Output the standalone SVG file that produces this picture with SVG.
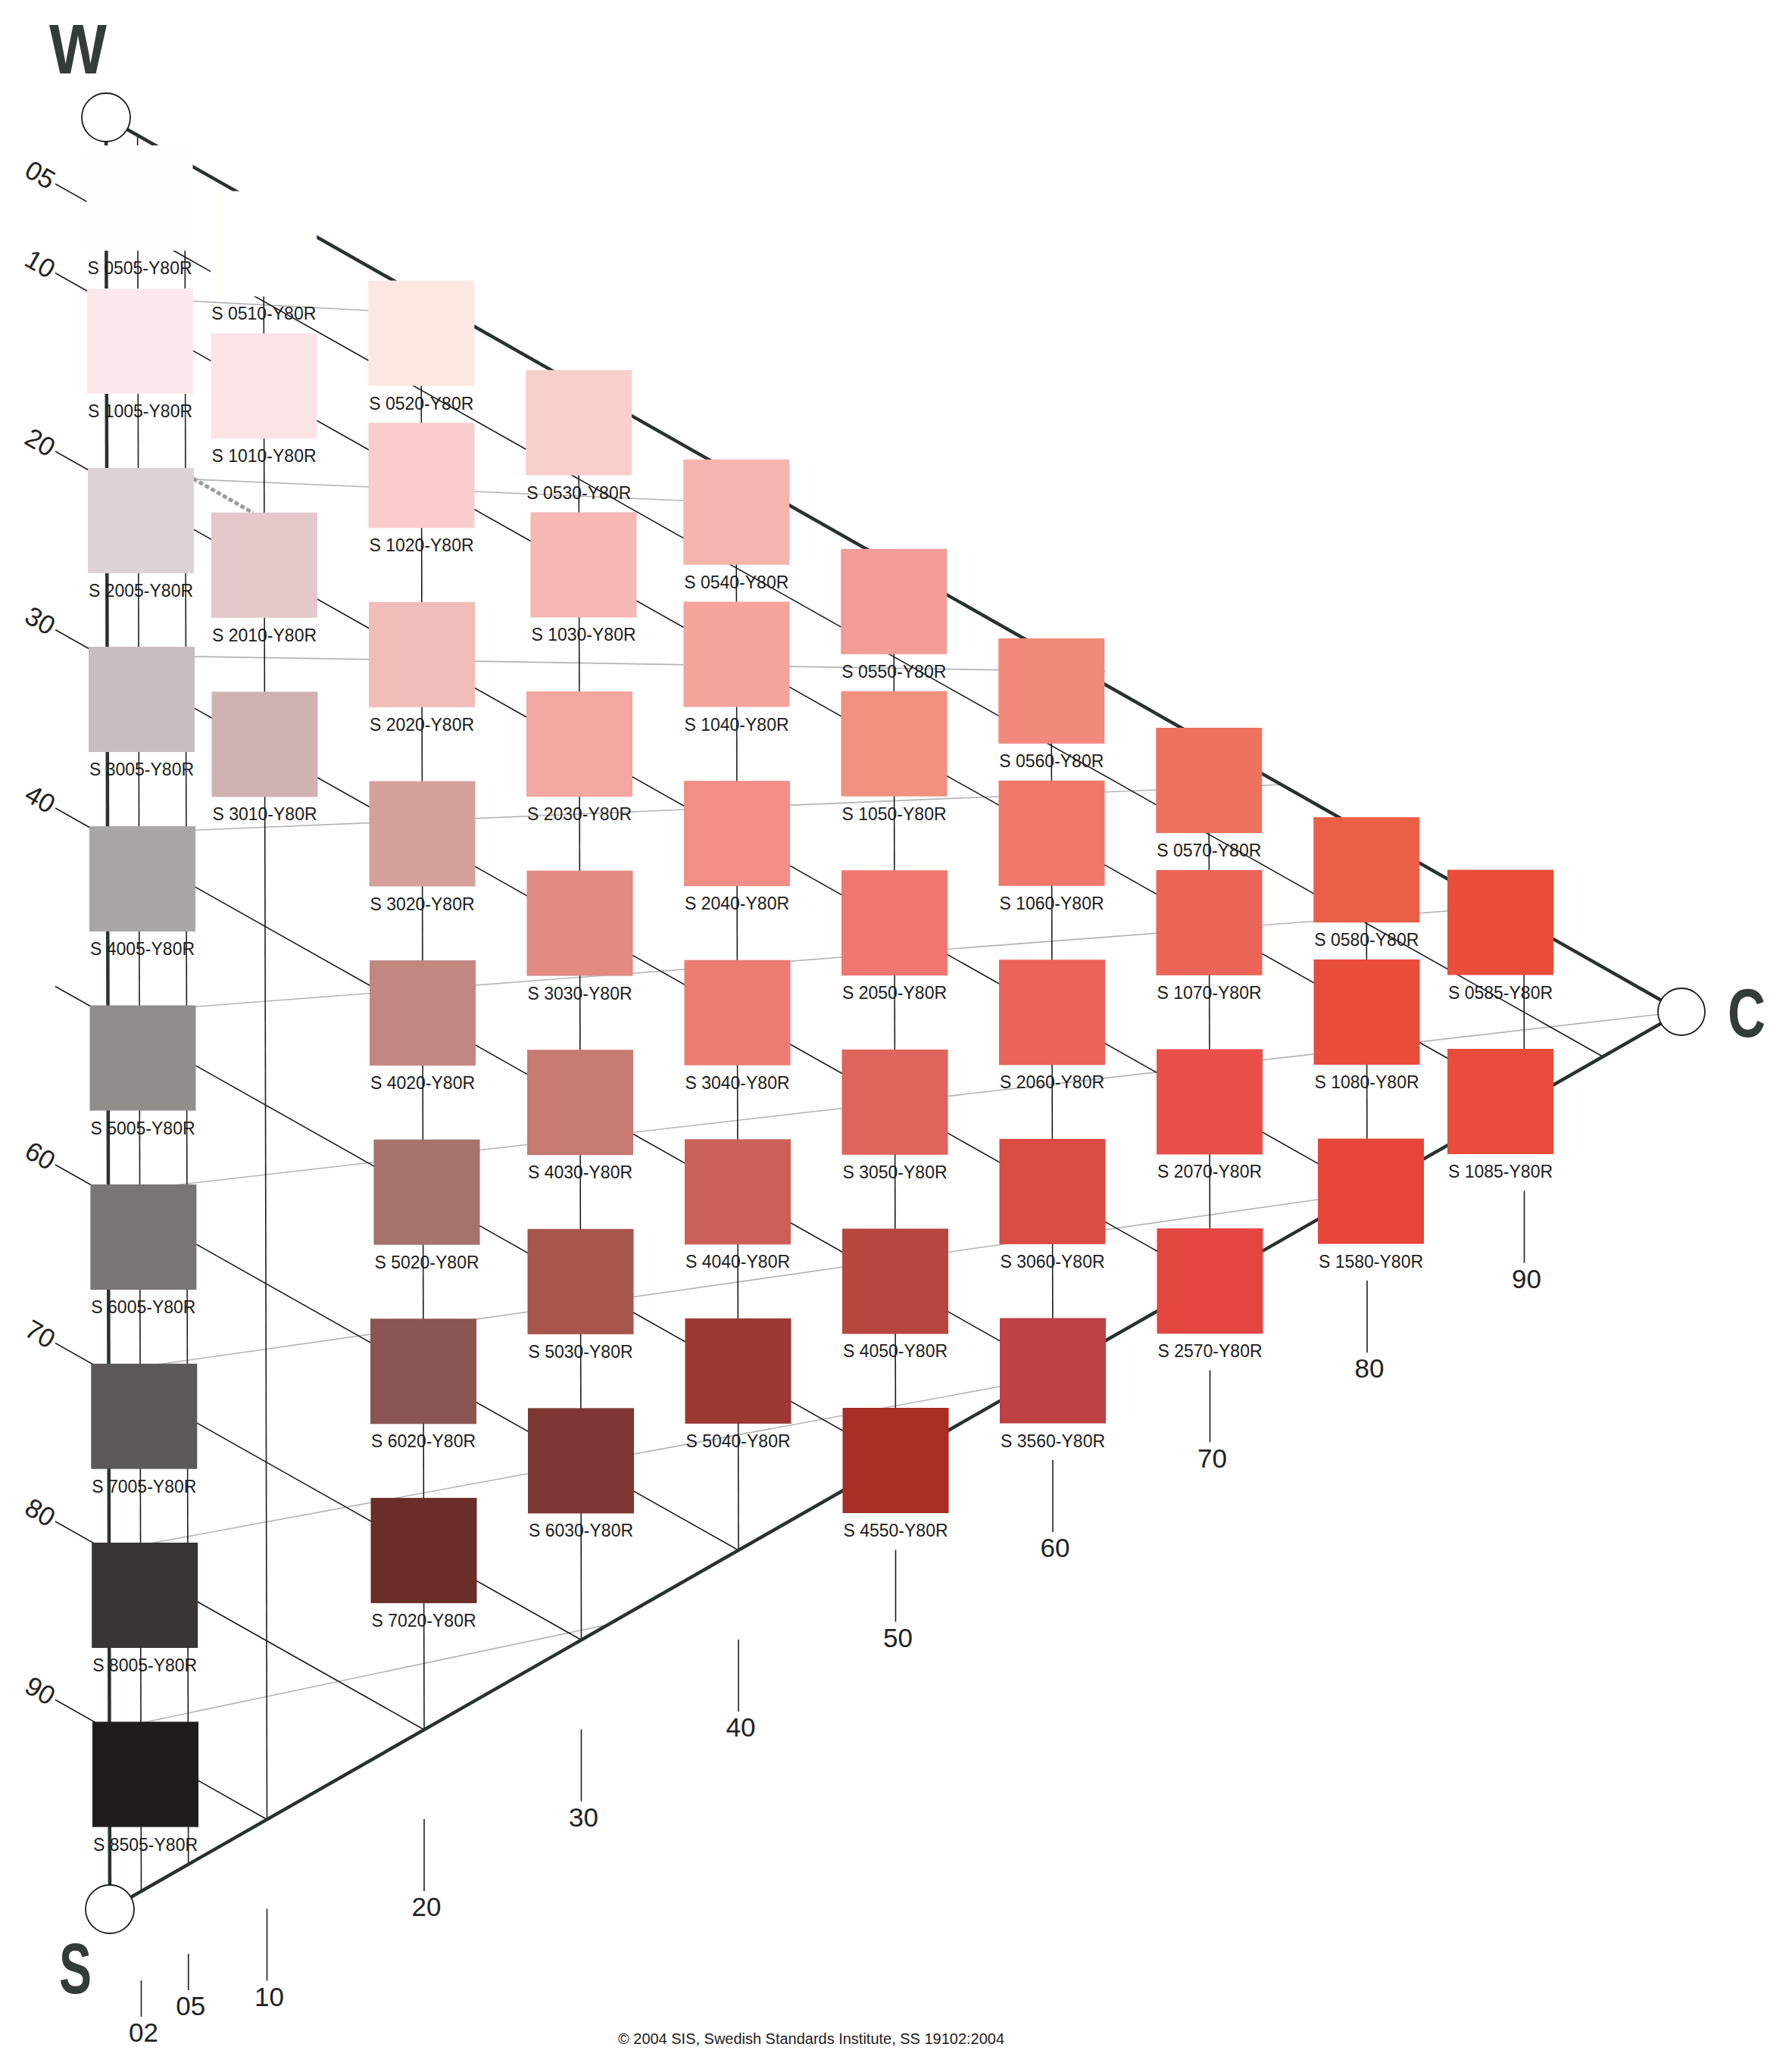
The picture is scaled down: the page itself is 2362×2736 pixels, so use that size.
<svg xmlns="http://www.w3.org/2000/svg" width="2362" height="2736" viewBox="0 0 2362 2736">
<style>
.lbl{font-family:"Liberation Sans",Arial,sans-serif;font-size:23px;fill:#1c1c1c;text-anchor:middle}
.num{font-family:"Liberation Sans",Arial,sans-serif;font-size:35px;fill:#222;text-anchor:middle}
.big{font-family:"Liberation Sans",Arial,sans-serif;font-weight:bold;fill:#333c38}
.thin{stroke:#1e1e1e;stroke-width:1.6;fill:none}
.thick{stroke:#283230;stroke-width:4.5;fill:none}
.faint{stroke:#b4b4b4;stroke-width:1.6;fill:none}
.dash{stroke:#9c9c9c;stroke-width:5;stroke-dasharray:6 3;fill:none}
.pole{fill:#fff;stroke:#1e1e1e;stroke-width:1.8}
</style>
<rect width="2362" height="2736" fill="#fff"/>
<g id="connectors">
<g id="lightness-lines">
<line class="faint" x1="140.5" y1="391.6" x2="599" y2="416"/>
<line class="faint" x1="141" y1="628" x2="1040" y2="667"/>
<line class="faint" x1="141.5" y1="865" x2="1460" y2="887"/>
<line class="faint" x1="142" y1="1101" x2="1694" y2="1036"/>
<line class="faint" x1="142.5" y1="1338" x2="1976" y2="1198"/>
<line class="faint" x1="143" y1="1575" x2="2220" y2="1336"/>
<line class="faint" x1="143.5" y1="1811" x2="1803" y2="1575"/>
<line class="faint" x1="144" y1="2048" x2="1368" y2="1822"/>
<line class="faint" x1="144.5" y1="2284" x2="804" y2="2145"/>
<line class="dash" x1="255" y1="632" x2="334" y2="677"/>
</g>
<g id="chromaticness-lines">
<line class="thin" x1="181.6" y1="178.6" x2="186.5" y2="2497.3"/>
<line class="thin" x1="244" y1="214" x2="248.75" y2="2461.75"/>
<line class="thin" x1="348" y1="273" x2="352.5" y2="2402.5"/>
<line class="thin" x1="556" y1="391" x2="560" y2="2284"/>
<line class="thin" x1="764" y1="509" x2="767.5" y2="2165.5"/>
<line class="thin" x1="972" y1="627.4" x2="975" y2="2047"/>
<line class="thin" x1="1180" y1="745.5" x2="1182.5" y2="1928.5"/>
<line class="thin" x1="1388" y1="863.6" x2="1390" y2="1810"/>
<line class="thin" x1="1596" y1="981.7" x2="1597.5" y2="1691.5"/>
<line class="thin" x1="1804" y1="1099.8" x2="1805" y2="1573"/>
<line class="thin" x1="2012" y1="1218" x2="2012.5" y2="1454.5"/>
</g>
<g id="blackness-lines">
<line class="thin" x1="73" y1="242.75" x2="2116.25" y2="1395.25"/>
<line class="thin" x1="73" y1="360.5" x2="2012.5" y2="1454.5"/>
<line class="thin" x1="73" y1="596" x2="1805" y2="1573"/>
<line class="thin" x1="73" y1="831.5" x2="1597.5" y2="1691.5"/>
<line class="thin" x1="73" y1="1067" x2="1390" y2="1810"/>
<line class="thin" x1="73" y1="1302.5" x2="1182.5" y2="1928.5"/>
<line class="thin" x1="73" y1="1538" x2="975" y2="2047"/>
<line class="thin" x1="73" y1="1773.5" x2="767.5" y2="2165.5"/>
<line class="thin" x1="73" y1="2009" x2="560" y2="2284"/>
<line class="thin" x1="73" y1="2244.5" x2="352.5" y2="2402.5"/>
</g>
<g id="edges">
<line class="thick" x1="140" y1="155" x2="145" y2="2521"/>
<line class="thick" x1="140" y1="155" x2="2220" y2="1336"/>
<line class="thick" x1="145" y1="2521" x2="2220" y2="1336"/>
</g>
<g id="scale-ticks">
<line class="thin" x1="186.5" y1="2615" x2="186.5" y2="2663"/>
<line class="thin" x1="248.75" y1="2580" x2="248.75" y2="2628"/>
<line class="thin" x1="352.5" y1="2520.5" x2="352.5" y2="2615.5"/>
<line class="thin" x1="560" y1="2402" x2="560" y2="2497"/>
<line class="thin" x1="767.5" y1="2283.5" x2="767.5" y2="2378.5"/>
<line class="thin" x1="975" y1="2165" x2="975" y2="2260"/>
<line class="thin" x1="1182.5" y1="2046.5" x2="1182.5" y2="2141.5"/>
<line class="thin" x1="1390" y1="1928" x2="1390" y2="2023"/>
<line class="thin" x1="1597.5" y1="1809.5" x2="1597.5" y2="1904.5"/>
<line class="thin" x1="1805" y1="1691" x2="1805" y2="1786"/>
<line class="thin" x1="2012.5" y1="1572.5" x2="2012.5" y2="1667.5"/>
</g>
</g>
<g id="swatches">
<g id="s0505"><rect x="114.5" y="192" width="140" height="139" fill="#fefefe"/><text class="lbl" x="184.5" y="362">S 0505-Y80R</text></g>
<g id="s1005"><rect x="115" y="381" width="140" height="139" fill="#fbe9eb"/><text class="lbl" x="185" y="551">S 1005-Y80R</text></g>
<g id="s2005"><rect x="116" y="618" width="140" height="139" fill="#dcd3d6"/><text class="lbl" x="186" y="788">S 2005-Y80R</text></g>
<g id="s3005"><rect x="117" y="854" width="140" height="139" fill="#c7bebf"/><text class="lbl" x="187" y="1024">S 3005-Y80R</text></g>
<g id="s4005"><rect x="118" y="1091" width="140" height="139" fill="#a8a7a5"/><text class="lbl" x="188" y="1261">S 4005-Y80R</text></g>
<g id="s5005"><rect x="118.5" y="1327.5" width="140" height="139" fill="#8f8e8b"/><text class="lbl" x="188.5" y="1497.5">S 5005-Y80R</text></g>
<g id="s6005"><rect x="119.4" y="1564" width="140" height="139" fill="#787573"/><text class="lbl" x="189.4" y="1734">S 6005-Y80R</text></g>
<g id="s7005"><rect x="120.3" y="1800.7" width="140" height="139" fill="#5b5957"/><text class="lbl" x="190.3" y="1970.7">S 7005-Y80R</text></g>
<g id="s8005"><rect x="121.2" y="2037" width="140" height="139" fill="#383533"/><text class="lbl" x="191.2" y="2207">S 8005-Y80R</text></g>
<g id="s8505"><rect x="122" y="2273.5" width="140" height="139" fill="#1f1d1c"/><text class="lbl" x="192" y="2443.5">S 8505-Y80R</text></g>

<g id="s0510"><rect x="278.25" y="252.4" width="140" height="139" fill="#fffffb"/><text class="lbl" x="348.25" y="422.4">S 0510-Y80R</text></g>
<g id="s1010"><rect x="278.5" y="440.2" width="140" height="139" fill="#fce4e6"/><text class="lbl" x="348.5" y="610">S 1010-Y80R</text></g>
<g id="s2010"><rect x="279" y="676.8" width="140" height="139" fill="#e4c8ca"/><text class="lbl" x="349" y="846.8">S 2010-Y80R</text></g>
<g id="s3010"><rect x="279.5" y="913.4" width="140" height="139" fill="#d0b2b3"/><text class="lbl" x="349.5" y="1083.4">S 3010-Y80R</text></g>

<g id="s0520"><rect x="486.25" y="370.5" width="140" height="139" fill="#fde7e3"/><text class="lbl" x="556.25" y="540.5">S 0520-Y80R</text></g>
<g id="s1020"><rect x="486.5" y="558.3" width="140" height="139" fill="#f8cdcc"/><text class="lbl" x="556.5" y="728.3">S 1020-Y80R</text></g>
<g id="s2020"><rect x="487" y="794.9" width="140" height="139" fill="#f2bcb9"/><text class="lbl" x="557" y="964.9">S 2020-Y80R</text></g>
<g id="s3020"><rect x="487.5" y="1031.5" width="140" height="139" fill="#d6a09b"/><text class="lbl" x="557.5" y="1201.5">S 3020-Y80R</text></g>
<g id="s4020"><rect x="488" y="1268.1" width="140" height="139" fill="#c0887f"/><text class="lbl" x="558" y="1438.1">S 4020-Y80R</text></g>
<g id="s5020"><rect x="493.5" y="1504.7" width="140" height="139" fill="#a6726b"/><text class="lbl" x="563.5" y="1674.7">S 5020-Y80R</text></g>
<g id="s6020"><rect x="489" y="1741.3" width="140" height="139" fill="#8a5652"/><text class="lbl" x="559" y="1911.3">S 6020-Y80R</text></g>
<g id="s7020"><rect x="489.5" y="1977.9" width="140" height="139" fill="#6b2d27"/><text class="lbl" x="559.5" y="2147.9">S 7020-Y80R</text></g>

<g id="s0530"><rect x="694.25" y="488.6" width="140" height="139" fill="#f8cfcb"/><text class="lbl" x="764.25" y="658.6">S 0530-Y80R</text></g>
<g id="s1030"><rect x="700.5" y="676.4" width="140" height="139" fill="#f5b8b3"/><text class="lbl" x="770.5" y="846.4">S 1030-Y80R</text></g>
<g id="s2030"><rect x="695" y="913" width="140" height="139" fill="#f4a7a0"/><text class="lbl" x="765" y="1083">S 2030-Y80R</text></g>
<g id="s3030"><rect x="695.5" y="1149.6" width="140" height="139" fill="#e28b83"/><text class="lbl" x="765.5" y="1319.6">S 3030-Y80R</text></g>
<g id="s4030"><rect x="696" y="1386.2" width="140" height="139" fill="#c77a72"/><text class="lbl" x="766" y="1556.2">S 4030-Y80R</text></g>
<g id="s5030"><rect x="696.5" y="1622.8" width="140" height="139" fill="#a8554d"/><text class="lbl" x="766.5" y="1792.8">S 5030-Y80R</text></g>
<g id="s6030"><rect x="697" y="1859.4" width="140" height="139" fill="#7e3632"/><text class="lbl" x="767" y="2029.4">S 6030-Y80R</text></g>

<g id="s0540"><rect x="902.25" y="606.7" width="140" height="139" fill="#f5b4ad"/><text class="lbl" x="972.25" y="776.7">S 0540-Y80R</text></g>
<g id="s1040"><rect x="902.5" y="794.5" width="140" height="139" fill="#f4a49d"/><text class="lbl" x="972.5" y="964.5">S 1040-Y80R</text></g>
<g id="s2040"><rect x="903" y="1031.1" width="140" height="139" fill="#f28e86"/><text class="lbl" x="973" y="1201.1">S 2040-Y80R</text></g>
<g id="s3040"><rect x="903.5" y="1267.7" width="140" height="139" fill="#ec7b72"/><text class="lbl" x="973.5" y="1437.7">S 3040-Y80R</text></g>
<g id="s4040"><rect x="904" y="1504.3" width="140" height="139" fill="#cb6058"/><text class="lbl" x="974" y="1674.3">S 4040-Y80R</text></g>
<g id="s5040"><rect x="904.5" y="1740.9" width="140" height="139" fill="#9c3932"/><text class="lbl" x="974.5" y="1910.9">S 5040-Y80R</text></g>

<g id="s0550"><rect x="1110.25" y="724.8" width="140" height="139" fill="#f29c97"/><text class="lbl" x="1180.25" y="894.8">S 0550-Y80R</text></g>
<g id="s1050"><rect x="1110.5" y="912.6" width="140" height="139" fill="#f0907f"/><text class="lbl" x="1180.5" y="1082.6">S 1050-Y80R</text></g>
<g id="s2050"><rect x="1111" y="1149.2" width="140" height="139" fill="#ef7770"/><text class="lbl" x="1181" y="1319.2">S 2050-Y80R</text></g>
<g id="s3050"><rect x="1111.5" y="1385.8" width="140" height="139" fill="#df645b"/><text class="lbl" x="1181.5" y="1555.8">S 3050-Y80R</text></g>
<g id="s4050"><rect x="1112" y="1622.4" width="140" height="139" fill="#b5473f"/><text class="lbl" x="1182" y="1792.4">S 4050-Y80R</text></g>
<g id="s4550"><rect x="1112.5" y="1859" width="140" height="139" fill="#a82e24"/><text class="lbl" x="1182.5" y="2029">S 4550-Y80R</text></g>

<g id="s0560"><rect x="1318.25" y="842.9" width="140" height="139" fill="#f18a7a"/><text class="lbl" x="1388.25" y="1012.9">S 0560-Y80R</text></g>
<g id="s1060"><rect x="1318.5" y="1030.7" width="140" height="139" fill="#ef7868"/><text class="lbl" x="1388.5" y="1200.7">S 1060-Y80R</text></g>
<g id="s2060"><rect x="1319" y="1267.3" width="140" height="139" fill="#eb6259"/><text class="lbl" x="1389" y="1437.3">S 2060-Y80R</text></g>
<g id="s3060"><rect x="1319.5" y="1503.9" width="140" height="139" fill="#da4b42"/><text class="lbl" x="1389.5" y="1673.9">S 3060-Y80R</text></g>
<g id="s3560"><rect x="1320" y="1740.5" width="140" height="139" fill="#bd4142"/><text class="lbl" x="1390" y="1910.5">S 3560-Y80R</text></g>

<g id="s0570"><rect x="1526.25" y="961" width="140" height="139" fill="#ee735f"/><text class="lbl" x="1596.25" y="1131">S 0570-Y80R</text></g>
<g id="s1070"><rect x="1526.5" y="1148.8" width="140" height="139" fill="#ec6657"/><text class="lbl" x="1596.5" y="1318.8">S 1070-Y80R</text></g>
<g id="s2070"><rect x="1527" y="1385.4" width="140" height="139" fill="#e94f48"/><text class="lbl" x="1597" y="1555.4">S 2070-Y80R</text></g>
<g id="s2570"><rect x="1527.5" y="1622" width="140" height="139" fill="#e34541"/><text class="lbl" x="1597.5" y="1792">S 2570-Y80R</text></g>

<g id="s0580"><rect x="1734.25" y="1079.1" width="140" height="139" fill="#eb5f47"/><text class="lbl" x="1804.25" y="1249.1">S 0580-Y80R</text></g>
<g id="s1080"><rect x="1734.5" y="1266.9" width="140" height="139" fill="#e94d3a"/><text class="lbl" x="1804.5" y="1436.9">S 1080-Y80R</text></g>
<g id="s1580"><rect x="1740" y="1503.5" width="140" height="139" fill="#e8453a"/><text class="lbl" x="1810" y="1673.5">S 1580-Y80R</text></g>

<g id="s0585"><rect x="1911" y="1148.5" width="140" height="139" fill="#ea4e3a"/><text class="lbl" x="1981" y="1318.5">S 0585-Y80R</text></g>
<g id="s1085"><rect x="1911" y="1385" width="140" height="139" fill="#e84c3b"/><text class="lbl" x="1981" y="1555">S 1085-Y80R</text></g>
</g>
<g id="poles">
<g id="pole-W"><circle class="pole" cx="140" cy="155" r="32"/><text class="big" x="65" y="97" font-size="92" textLength="76" lengthAdjust="spacingAndGlyphs">W</text></g>
<g id="pole-S"><circle class="pole" cx="145" cy="2521" r="32"/><text class="big" x="78" y="2632" font-size="94" textLength="43" lengthAdjust="spacingAndGlyphs">S</text></g>
<g id="pole-C"><circle class="pole" cx="2220" cy="1336" r="31"/><text class="big" x="2281" y="1369" font-size="90" textLength="50" lengthAdjust="spacingAndGlyphs">C</text></g>
</g>
<g id="blackness-scale">
<text class="num" x="53" y="242.75" transform="rotate(30 53 230.75)">05</text>
<text class="num" x="53" y="360.5" transform="rotate(30 53 348.5)">10</text>
<text class="num" x="53" y="596" transform="rotate(30 53 584)">20</text>
<text class="num" x="53" y="831.5" transform="rotate(30 53 819.5)">30</text>
<text class="num" x="53" y="1067" transform="rotate(30 53 1055)">40</text>
<text class="num" x="53" y="1538" transform="rotate(30 53 1526)">60</text>
<text class="num" x="53" y="1773.5" transform="rotate(30 53 1761.5)">70</text>
<text class="num" x="53" y="2009" transform="rotate(30 53 1997)">80</text>
<text class="num" x="53" y="2244.5" transform="rotate(30 53 2232.5)">90</text>
</g>
<g id="chromaticness-scale">
<text class="num" x="189.5" y="2696">02</text>
<text class="num" x="251.75" y="2661">05</text>
<text class="num" x="355.5" y="2648.5">10</text>
<text class="num" x="563" y="2530">20</text>
<text class="num" x="770.5" y="2411.5">30</text>
<text class="num" x="978" y="2293">40</text>
<text class="num" x="1185.5" y="2174.5">50</text>
<text class="num" x="1393" y="2056">60</text>
<text class="num" x="1600.5" y="1937.5">70</text>
<text class="num" x="1808" y="1819">80</text>
<text class="num" x="2015.5" y="1700.5">90</text>
</g>
<text x="1071" y="2699" font-family="'Liberation Sans',Arial,sans-serif" font-size="20" fill="#222" text-anchor="middle" textLength="510" lengthAdjust="spacingAndGlyphs">© 2004 SIS, Swedish Standards Institute, SS 19102:2004</text>
</svg>
